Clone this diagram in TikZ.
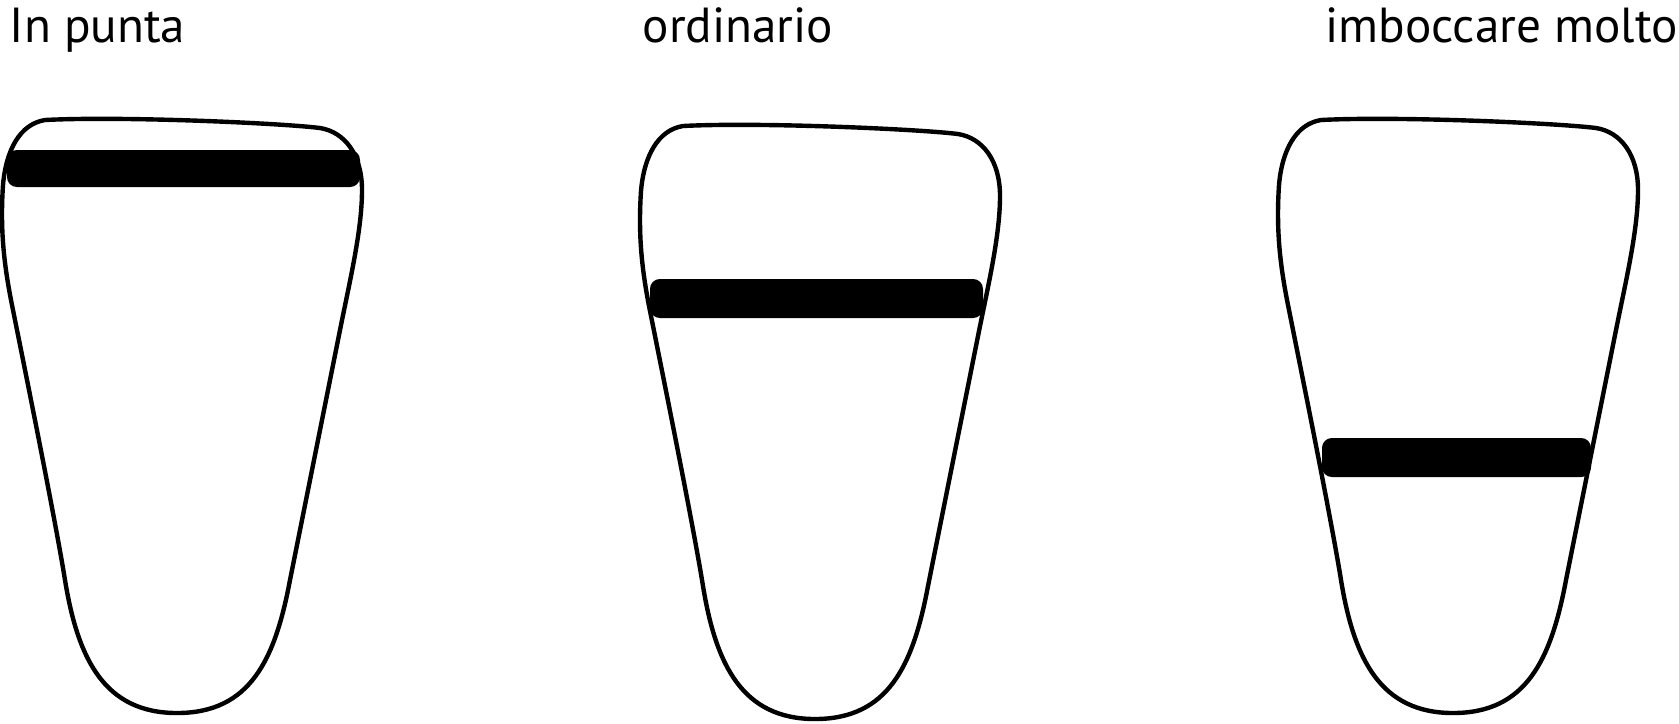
\documentclass[tikz,border=0pt]{standalone}
\usepackage{fontspec}
\setmainfont{PT Sans}
\usetikzlibrary{positioning}
\definecolor{reedink}{HTML}{000000}
% bar heights (top, bottom) for the three positions
\newcommand{\PuntaTop}{150}
\newcommand{\PuntaBot}{187}
\newcommand{\OrdTop}{279}
\newcommand{\OrdBot}{318}
\newcommand{\MoltoTop}{438}
\newcommand{\MoltoBot}{477}

\begin{document}
\begin{tikzpicture}[x=0.01cm,y=-0.01cm,font=\fontsize{14}{16}\selectfont]
\useasboundingbox (0,0) rectangle (1679,723);
\foreach \dx/\dy in {0/0,638/6,1276/0} {
  \draw[reedink,line width=1.25pt,shift={(\dx,\dy)}]
    (45,120) .. controls (120,116) and (280,123) .. (320,128)
    .. controls (345,132) and (362,155) .. (362,190)
    .. controls (362,230) and (350,280) .. (340,330)
    .. controls (330,380) and (300,530) .. (290,580)
    .. controls (275,660) and (250,713) .. (177,713)
    .. controls (105,713) and (78,660) .. (65,580)
    .. controls (55,518) and (25,370) .. (12,305)
    .. controls (4,265) and (0,230) .. (3,185)
    .. controls (6,150) and (20,124) .. cycle;
}
\fill[reedink,rounded corners=2.8pt] (7,\PuntaTop) rectangle (360,\PuntaBot);
\fill[reedink,rounded corners=2.8pt] (650,\OrdTop) rectangle (983,\OrdBot);
\fill[reedink,rounded corners=2.8pt] (1322,\MoltoTop) rectangle (1591,\MoltoBot);
\node[anchor=base west,inner sep=0] (punta) at (9,42) {In punta};
\node[anchor=base west,inner sep=0] (ordinario) at (642,42) {ordinario};
\node[anchor=base west,inner sep=0] (molto) at (1325,42) {imboccare molto};
\end{tikzpicture}
\end{document}
